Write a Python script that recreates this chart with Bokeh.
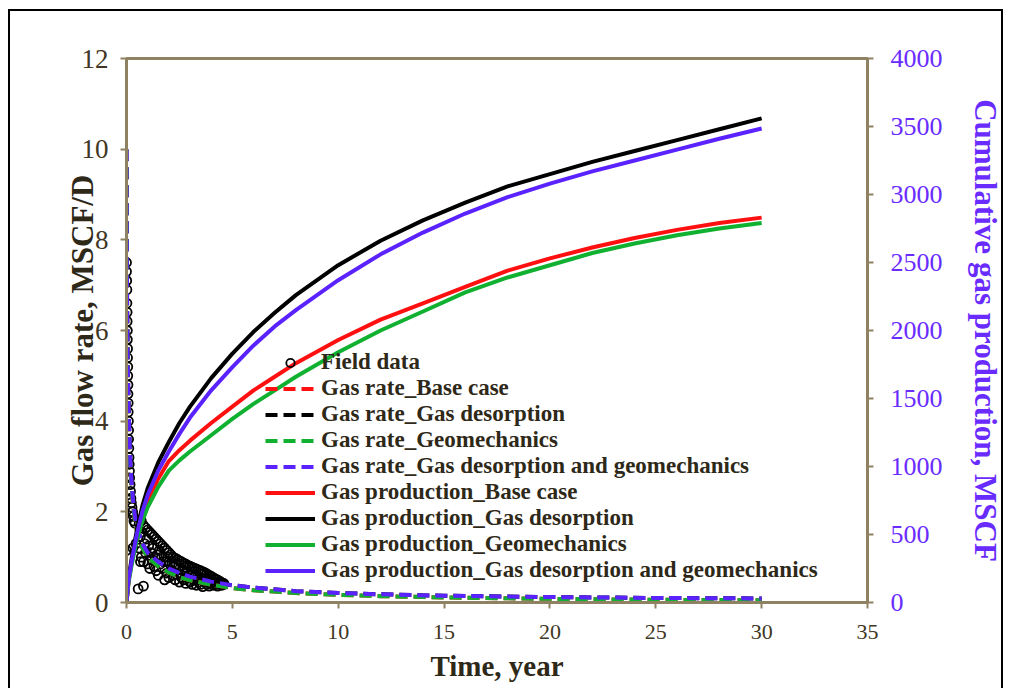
from bokeh.plotting import figure
from bokeh.models import Range1d, LinearAxis, Legend, LegendItem, FixedTicker
from bokeh.embed import file_html
from bokeh.resources import INLINE

# ---------------- data ----------------
# Field data (time in years, gas rate MSCF/D)
field_t = [0.00, 0.00, 0.01, 0.02, 0.02, 0.03, 0.03, 0.04, 0.04, 0.05, 0.05, 0.06, 0.06, 0.07, 0.07,
           0.08, 0.08, 0.09, 0.10, 0.10, 0.11, 0.12, 0.13, 0.14, 0.15, 0.17, 0.19, 0.21, 0.23, 0.26,
           0.29, 0.32, 0.35, 0.40, 0.55, 0.80, 0.66, 0.00, 0.30, 0.45,
           0.6, 0.7, 0.8, 0.9, 1.0, 1.1, 1.2, 1.3, 1.4, 1.5, 1.6, 1.7, 1.8, 1.9, 2.0, 2.1, 2.2, 2.3,
           2.4, 2.5, 2.6, 2.7, 2.8, 2.9, 3.0, 3.1, 3.2, 3.3, 3.4, 3.5, 3.6, 3.7, 3.8, 3.9, 4.0, 4.1,
           4.2, 4.3, 4.4, 4.5, 4.6,
           0.6, 0.7, 0.8, 0.9, 1.0, 1.1, 1.2, 1.3, 1.4, 1.5, 1.6, 1.7, 1.8, 1.9, 2.0, 2.1, 2.2, 2.3,
           2.4, 2.5, 2.6, 2.7, 2.8, 2.9, 3.0, 3.1, 3.2, 3.3, 3.4, 3.5, 3.6, 3.7, 3.8, 3.9, 4.0, 4.1,
           4.2, 4.3, 4.4, 4.5, 4.6,
           0.65, 0.85, 1.05, 1.25, 1.45, 1.65, 1.85, 2.05, 2.25, 2.45, 2.65, 2.85, 3.05, 3.25, 3.45,
           3.65, 3.85, 4.05, 4.25,
           0.75, 0.95, 1.15, 1.35, 1.55, 1.75, 1.95, 2.15, 2.35, 2.55, 2.75, 2.95, 3.15, 3.35, 3.55,
           3.75, 3.95, 4.15, 4.35]
field_q = [7.50, 7.30, 7.10, 6.90, 6.60, 6.40, 6.20, 6.00, 5.80, 5.60, 5.40, 5.20, 5.00, 4.80, 4.60,
           4.40, 4.20, 4.00, 3.80, 3.60, 3.40, 3.20, 3.05, 2.90, 2.75, 2.60, 2.45, 2.30, 2.20, 2.10,
           2.00, 1.90, 1.80, 1.75, 0.30, 0.36, 0.90, 1.15, 1.20, 1.30,
           1.75, 1.80, 1.70, 1.65, 1.60, 1.55, 1.50, 1.45, 1.40, 1.35, 1.30, 1.25, 1.20, 1.15, 1.10, 1.05,
           1.00, 0.98, 0.95, 0.92, 0.90, 0.87, 0.85, 0.82, 0.80, 0.78, 0.76, 0.74, 0.72, 0.70, 0.68, 0.66,
           0.63, 0.60, 0.58, 0.55, 0.52, 0.50, 0.47, 0.44, 0.42,
           1.20, 1.00, 0.90, 1.10, 0.85, 0.75, 0.95, 0.80, 0.70, 0.60, 0.85, 0.75, 0.50, 0.65, 0.55, 0.70,
           0.60, 0.50, 0.62, 0.45, 0.55, 0.50, 0.42, 0.55, 0.45, 0.40, 0.50, 0.38, 0.45, 0.40, 0.35, 0.45,
           0.40, 0.36, 0.42, 0.38, 0.40, 0.36, 0.40, 0.38, 0.40,
           1.45, 1.30, 1.25, 1.20, 1.05, 1.00, 0.90, 0.85, 0.80, 0.72, 0.70, 0.65, 0.60, 0.58, 0.55,
           0.52, 0.50, 0.48, 0.45,
           1.55, 1.40, 1.10, 1.00, 1.15, 0.90, 1.00, 0.70, 0.85, 0.62, 0.78, 0.60, 0.68, 0.50, 0.62,
           0.48, 0.55, 0.45, 0.44]

# Simulated gas rate (MSCF/D), left axis
rate_t = [0, 0.01, 0.03, 0.06, 0.1, 0.15, 0.2, 0.3, 0.4, 0.5, 0.75, 1, 1.5, 2, 2.5, 3, 4, 5, 6, 8,
          10, 12, 15, 20, 25, 30]
rate_base = [9.6, 7.6, 6.2, 5.0, 4.1, 3.3, 2.8, 2.2, 1.8, 1.55, 1.2, 1.0, 0.8, 0.66, 0.56, 0.49,
             0.39, 0.32, 0.27, 0.21, 0.17, 0.14, 0.11, 0.08, 0.06, 0.05]
rate_desorption = [10.0, 8.0, 6.5, 5.2, 4.3, 3.5, 2.9, 2.3, 1.9, 1.65, 1.3, 1.1, 0.9, 0.75, 0.65, 0.57,
                   0.46, 0.38, 0.33, 0.25, 0.21, 0.18, 0.15, 0.12, 0.1, 0.09]
rate_geomech = [9.6, 7.6, 6.2, 5.0, 4.1, 3.3, 2.8, 2.2, 1.8, 1.55, 1.2, 1.0, 0.8, 0.66, 0.56, 0.49,
                0.39, 0.32, 0.27, 0.21, 0.17, 0.14, 0.11, 0.08, 0.06, 0.05]
rate_desorp_geomech = [10.0, 8.0, 6.5, 5.2, 4.3, 3.5, 2.9, 2.3, 1.9, 1.65, 1.3, 1.1, 0.9, 0.75, 0.65,
                       0.57, 0.46, 0.38, 0.33, 0.25, 0.21, 0.18, 0.15, 0.12, 0.1, 0.09]

# Cumulative gas production (MSCF), right axis
cum_t = [0, 0.1, 0.25, 0.5, 0.75, 1, 1.5, 2, 2.5, 3, 4, 5, 6, 7, 8, 10, 12, 14, 16, 18, 20, 22, 24,
         26, 28, 30]
cum_base = [0, 160, 300, 500, 640, 750, 910, 1040, 1120, 1190, 1320, 1440, 1560, 1660, 1760, 1930,
            2080, 2200, 2320, 2440, 2530, 2610, 2680, 2740, 2790, 2830]
cum_desorption = [0, 180, 330, 540, 710, 840, 1030, 1180, 1320, 1440, 1650, 1830, 1990, 2130, 2260,
                  2480, 2660, 2810, 2940, 3060, 3150, 3240, 3320, 3400, 3480, 3560]
cum_geomech = [0, 150, 280, 470, 600, 700, 850, 970, 1045, 1110, 1230, 1350, 1460, 1560, 1660, 1840,
               2000, 2140, 2280, 2390, 2480, 2570, 2640, 2700, 2750, 2790]
cum_desorp_geomech = [0, 170, 310, 510, 670, 790, 970, 1110, 1240, 1360, 1560, 1730, 1890, 2030, 2150,
                      2370, 2560, 2720, 2860, 2980, 3080, 3170, 3250, 3330, 3410, 3485]

x_ticks = [0, 5, 10, 15, 20, 25, 30, 35]
left_ticks = [0, 2, 4, 6, 8, 10, 12]
right_ticks = [0, 500, 1000, 1500, 2000, 2500, 3000, 3500, 4000]

# ---------------- styling ----------------
FONT = "Liberation Serif"
TAN = "#8f8262"
DARK = "#2e2818"
OLIVE = "#3f3724"
VIOLET = "#6a2bff"
RED = "#ff1010"
GREEN = "#10b030"
BLUE = "#5a22ff"
BLACK = "#000000"

p = figure(width=995, height=679, output_backend="svg", toolbar_location=None,
           x_range=Range1d(0, 35), y_range=Range1d(0, 12),
           min_border_left=116, min_border_right=138, min_border_top=47, min_border_bottom=88)
p.styles = {"position": "relative", "top": "9px", "left": "8px",
            "border-top": "2px solid black",
            "border-left": "2px solid black", "border-right": "2px solid black"}
p.extra_y_ranges = {"cum": Range1d(0, 4000)}
p.grid.visible = False
p.outline_line_color = TAN
p.outline_line_width = 3
p.background_fill_color = "white"
p.border_fill_color = "white"

# axes
xa = p.xaxis[0]
xa.ticker = FixedTicker(ticks=x_ticks)
xa.axis_label = "Time, year"
ya = p.yaxis[0]
ya.ticker = FixedTicker(ticks=left_ticks)
ya.axis_label = "Gas flow rate, MSCF/D"

ra = LinearAxis(y_range_name="cum", ticker=FixedTicker(ticks=right_ticks),
                axis_label="Cumulative gas production, MSCF")
p.add_layout(ra, "right")

for ax in (xa, ya, ra):
    ax.axis_line_color = TAN
    ax.axis_line_width = 3
    ax.major_tick_line_color = TAN
    ax.major_tick_line_width = 2
    ax.major_tick_out = 6
    ax.major_tick_in = 0
    ax.minor_tick_line_color = None
    ax.major_label_text_font = FONT
    ax.axis_label_text_font = FONT
    ax.axis_label_text_font_style = "bold"

xa.major_label_text_font_size = "22px"
xa.major_label_text_color = OLIVE
xa.major_label_standoff = 16
xa.axis_label_text_font_size = "29px"
xa.axis_label_text_color = DARK
xa.axis_label_standoff = 8

ya.major_label_text_font_size = "27px"
ya.major_label_text_color = OLIVE
ya.major_label_standoff = 12
ya.axis_label_text_font_size = "31px"
ya.axis_label_text_color = DARK
ya.axis_label_standoff = -21

ra.major_label_text_font_size = "26px"
ra.major_label_text_color = VIOLET
ra.major_label_standoff = 17
ra.axis_label_text_font_size = "31px"
ra.axis_label_text_color = VIOLET
ra.axis_label_standoff = 22

# ---------------- glyphs ----------------
r_field = p.scatter(field_t, field_q, marker="circle", size=9, fill_color=None,
                    line_color=BLACK, line_width=1.8)

dash = "12 6"
r_rb = p.line(rate_t, rate_base, line_color=RED, line_width=4, line_dash=dash)
r_rd = p.line(rate_t, rate_desorption, line_color=BLACK, line_width=4, line_dash=dash)
r_rg = p.line(rate_t, rate_geomech, line_color=GREEN, line_width=4, line_dash=dash)
r_rdg = p.line(rate_t, rate_desorp_geomech, line_color=BLUE, line_width=4, line_dash=dash)

r_cb = p.line(cum_t, cum_base, line_color=RED, line_width=4, y_range_name="cum")
r_cd = p.line(cum_t, cum_desorption, line_color=BLACK, line_width=4, y_range_name="cum")
r_cg = p.line(cum_t, cum_geomech, line_color=GREEN, line_width=4, y_range_name="cum")
r_cdg = p.line(cum_t, cum_desorp_geomech, line_color=BLUE, line_width=4, y_range_name="cum")

items = [
    LegendItem(label="Field data", renderers=[r_field]),
    LegendItem(label="Gas rate_Base case", renderers=[r_rb]),
    LegendItem(label="Gas rate_Gas desorption", renderers=[r_rd]),
    LegendItem(label="Gas rate_Geomechanics", renderers=[r_rg]),
    LegendItem(label="Gas rate_Gas desorption and geomechanics", renderers=[r_rdg]),
    LegendItem(label="Gas production_Base case", renderers=[r_cb]),
    LegendItem(label="Gas production_Gas desorption", renderers=[r_cd]),
    LegendItem(label="Gas production_Geomechanics", renderers=[r_cg]),
    LegendItem(label="Gas production_Gas desorption and geomechanics", renderers=[r_cdg]),
]
legend = Legend(items=items, location=(139, 19))
legend.background_fill_alpha = 0
legend.border_line_color = None
legend.padding = 0
legend.margin = 0
legend.spacing = 0
legend.glyph_width = 50
legend.glyph_height = 21
legend.label_height = 21
legend.label_standoff = 6
legend.label_text_font = FONT
legend.label_text_font_style = "bold"
legend.label_text_font_size = "23px"
legend.label_text_color = DARK
p.add_layout(legend, "center")

open("out.html", "w").write(file_html(p, INLINE))
